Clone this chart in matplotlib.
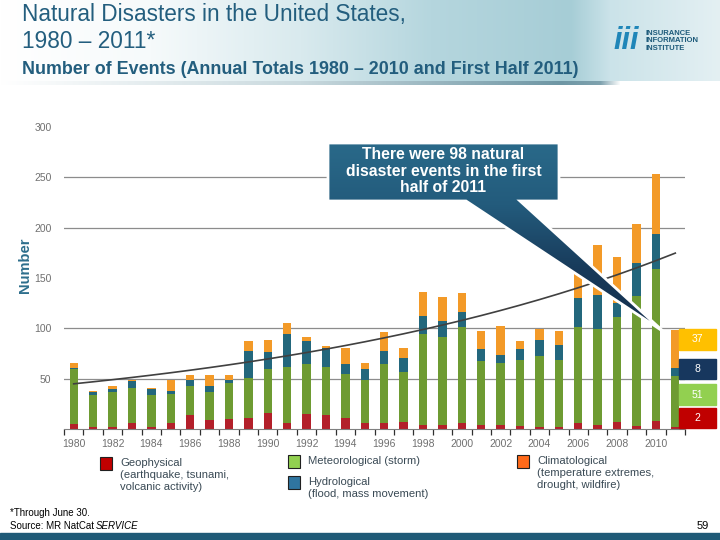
import matplotlib.pyplot as plt
import numpy as np
from matplotlib.patches import Polygon, Rectangle
from matplotlib.colors import LinearSegmentedColormap, to_rgb

plt.rcParams['font.family'] = ['Liberation Sans', 'DejaVu Sans']

# data
years = list(range(1980, 2012))
geophysical = [5, 2, 2, 6, 2, 6, 14, 9, 10, 11, 16,
               6, 15, 14, 11, 6, 6, 7, 4, 4, 6, 4,
               4, 3, 2, 2, 6, 4, 7, 3, 8, 2]
meteorological = [55, 32, 35, 35, 32, 29, 29, 28, 36, 40, 44,
                  56, 50, 48, 44, 43, 59, 50, 90, 87, 95, 64,
                  62, 66, 71, 67, 95, 95, 104, 129, 151, 51]
hydrological = [1, 3, 3, 7, 6, 3, 6, 6, 3, 26, 16,
                32, 22, 18, 10, 11, 12, 14, 18, 16, 15, 11,
                8, 10, 15, 14, 29, 34, 14, 33, 35, 8]
climatological = [5, 1, 3, 1, 1, 11, 5, 11, 5, 10, 12,
                  11, 4, 2, 15, 6, 19, 9, 24, 24, 19, 18,
                  28, 8, 11, 14, 30, 50, 46, 39, 59, 37]
year_labels = list(range(1980, 2011, 2))
y_ticks = [50, 100, 150, 200, 250, 300]
grid_values = [50, 100, 200, 250]

series = [geophysical, meteorological, hydrological, climatological]
bar_colors = ['#B3202A', '#6E9B32', '#23677C', '#F39A28']
legend_colors = ['#C00000', '#92D050', '#2F75A0', '#FF6A1A']
legend_texts = ['Geophysical\n(earthquake, tsunami,\nvolcanic activity)',
                'Meteorological (storm)',
                'Hydrological\n(flood, mass movement)',
                'Climatological\n(temperature extremes,\ndrought, wildfire)']

W, H = 720, 540
fig = plt.figure(figsize=(7.2, 5.4), dpi=100)
fig.patch.set_facecolor('white')

# background layer in pixel coordinates
bg = fig.add_axes([0, 0, 1, 1], zorder=0)
stops = [(0, '#FFFFFF'), (150, '#F6FAFB'), (300, '#D9EAEE'), (430, '#B5D6DE'),
         (570, '#A6CDD6'), (610, '#CBE3E9'), (720, '#E4F0F3')]
xs = np.arange(W)
row = np.array([[np.interp(x, [s[0] for s in stops], [to_rgb(s[1])[k] for s in stops])
                 for k in range(3)] for x in xs])
bg.imshow(row[np.newaxis, :, :], extent=(0, W, 84, 0), aspect='auto')
shadow = np.array([[np.interp(x, [0, 300, 560, 600, 620],
                              [to_rgb(c)[k] for c in ['#FFFFFF', '#C9D9DE', '#6E96A4', '#7FA2AE', '#FFFFFF']])
                    for k in range(3)] for x in xs])
bg.imshow(shadow[np.newaxis, :, :], extent=(0, W, 85, 81), aspect='auto')
bg.add_patch(Rectangle((0, 533), W, 7, color='#1F5A77'))
bg.set_xlim(0, W)
bg.set_ylim(H, 0)
bg.axis('off')

# chart
ax = fig.add_axes([64 / W, 1 - 429 / H, 621 / W, 302 / H], zorder=1)
ax.patch.set_alpha(0)
bottom = np.zeros(len(years))
for vals, col in zip(series, bar_colors):
    ax.bar(years, vals, width=0.43, bottom=bottom, color=col, zorder=2)
    bottom += np.array(vals)

# exponential trend over the plotted totals
totals = bottom
fit = np.polyfit(years, np.log(totals), 1)
ax.plot(years, np.exp(np.polyval(fit, years)), color='#404040', lw=1.2, zorder=3)

for v in grid_values:
    ax.axhline(v, color='#8C8C8C', lw=0.9, zorder=0)

ax.set_xlim(1979.5, 2011.5)
ax.set_ylim(0, 300)
for s in ['top', 'right', 'left']:
    ax.spines[s].set_visible(False)
ax.spines['bottom'].set_color('#808080')
ax.set_xticks(year_labels)
ax.set_xticklabels([str(y) for y in year_labels])
ax.set_xticks(np.arange(1979.5, 2012, 1), minor=True)
ax.tick_params(axis='x', which='major', length=0, pad=7, labelsize=7.5, labelcolor='#707070')
ax.tick_params(axis='x', which='minor', length=4, color='#303030', width=0.9)
ax.set_yticks(y_ticks)
ax.tick_params(axis='y', length=0, pad=9, labelsize=7.5, labelcolor='#707070')

# foreground layer in pixel coordinates
fg = fig.add_axes([0, 0, 1, 1], zorder=3)
fg.patch.set_alpha(0)

callout = [(328, 143), (559, 143), (559, 201), (520, 201), (664, 332),
           (466, 201), (328, 201)]
poly = Polygon(callout, closed=True, facecolor='none', edgecolor='white',
               lw=2, joinstyle='miter', zorder=5)
fg.add_patch(poly)
cmap = LinearSegmentedColormap.from_list('callout', ['#2A6A8A', '#235B7C', '#183A5A', '#132E4C'])
im = fg.imshow(np.linspace(0, 1, 256).reshape(-1, 1), cmap=cmap,
               extent=(320, 670, 335, 140), aspect='auto', zorder=4)
im.set_clip_path(poly)
fg.text(443.5, 171, 'There were 98 natural\ndisaster events in the first\nhalf of 2011',
        ha='center', va='center', color='white', fontsize=11.3, fontweight='bold',
        linespacing=1.12, zorder=6)

# value boxes for 2011
boxes = [(climatological[-1], '#FFC000', 329, 350),
         (hydrological[-1], '#17375E', 359, 379),
         (meteorological[-1], '#92D050', 384, 405),
         (geophysical[-1], '#C00000', 408, 428)]
for val, col, y0, y1 in boxes:
    fg.add_patch(Rectangle((679, y0), 37, y1 - y0, color=col, zorder=4))
    fg.text(697.5, (y0 + y1) / 2, str(val), ha='center', va='center',
            color='white', fontsize=7.5, zorder=5)

# legend
legend_pos = [(100, 457), (288, 455), (288, 476), (517, 455)]
for (lx, ly), col, txt in zip(legend_pos, legend_colors, legend_texts):
    fg.add_patch(Rectangle((lx, ly), 12, 13, facecolor=col, edgecolor='#202020', lw=0.8))
    fg.text(lx + 20, ly + 1, txt, ha='left', va='top',
            fontsize=8.1, color='#3A4A55', linespacing=1.22)

# titles
title_col = '#235E7E'
fg.text(22, 14, 'Natural Disasters in the United States,', fontsize=16.3,
        color=title_col, va='center')
fg.text(22, 42, '1980 \u2013 2011*', fontsize=16.3, color=title_col, va='center')
fg.text(22, 70, 'Number of Events (Annual Totals 1980 \u2013 2010 and First Half 2011)',
        fontsize=12.9, fontweight='bold', color=title_col, va='center')

# logo
fg.text(626, 41, 'iii', fontsize=22, fontweight='bold', style='italic',
        color='#1F86B8', ha='center', va='center')
fg.text(645, 41, 'INSURANCE\nINFORMATION\nINSTITUTE', fontsize=5.5,
        fontweight='bold', color='#1D5A7A', va='center', linespacing=1.05)

fig.text(25 / W, 1 - 265 / H, 'Number', rotation=90, ha='center', va='center',
         fontsize=10.5, fontweight='bold', color='#2D6E8C')

# footnotes
fg.text(10, 513, '*Through June 30.', fontsize=7, va='center')
src = fg.text(10, 526, 'Source: MR NatCat', fontsize=7, va='center')
fg.annotate('SERVICE', xy=(1, 0.5), xycoords=src, xytext=(1, 0),
            textcoords='offset points', va='center', ha='left',
            fontsize=7, style='italic')
fg.text(709, 526, '59', fontsize=8, ha='right', va='center')

fg.set_xlim(0, W)
fg.set_ylim(H, 0)
fg.axis('off')

fig.savefig('out.png', dpi=100)
